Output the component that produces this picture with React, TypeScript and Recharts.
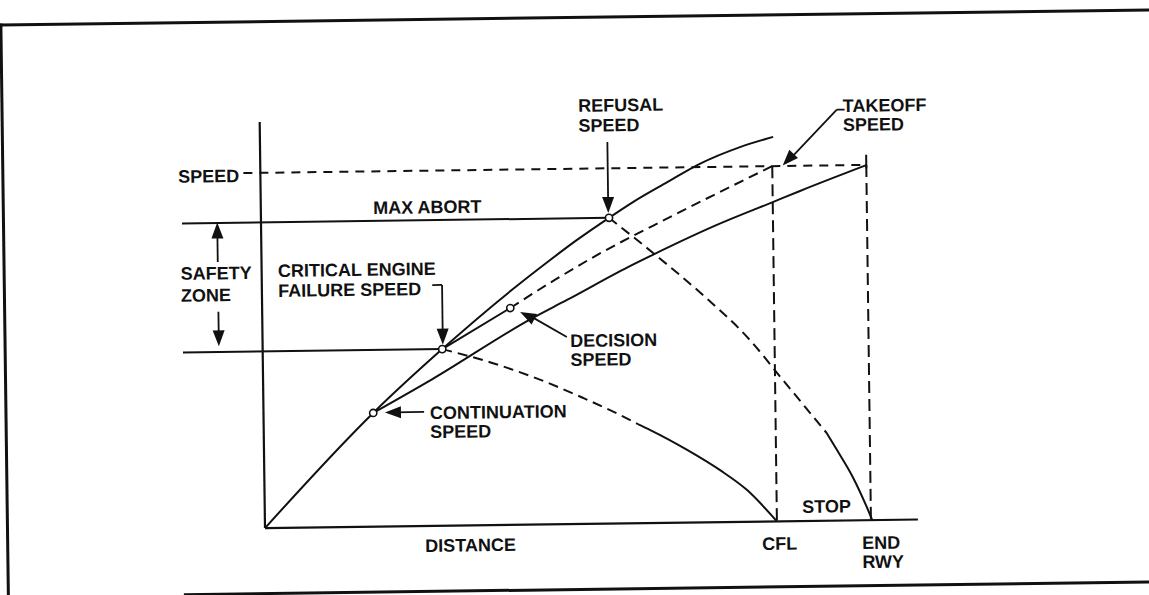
import { ComposedChart, Line, Scatter, XAxis, YAxis, ReferenceLine, ReferenceDot } from 'recharts';

// x = distance along runway (0-100), y = speed (0-100)
const allEngineAccel = [
  { x: 0, y: 0 }, { x: 16.8, y: 28.0 }, { x: 27.5, y: 43.5 }, { x: 38.4, y: 58.0 },
  { x: 44.2, y: 65.1 }, { x: 48.3, y: 69.9 }, { x: 53.3, y: 75.3 }, { x: 57.0, y: 79.1 },
  { x: 62.3, y: 83.9 }, { x: 67.3, y: 88.3 }, { x: 73.5, y: 92.3 }, { x: 78.6, y: 94.7 },
];
const goFromContinuation = [
  { x: 16.8, y: 28.0 }, { x: 26.0, y: 36.2 }, { x: 41.1, y: 50.6 }, { x: 46.7, y: 55.2 },
  { x: 56.1, y: 63.1 }, { x: 60.0, y: 66.1 }, { x: 69.8, y: 73.2 }, { x: 78.5, y: 78.7 },
  { x: 82.6, y: 81.3 }, { x: 92.9, y: 87.5 },
];
const goFromCritical = [{ x: 27.5, y: 43.5 }, { x: 38.0, y: 53.4 }];
const goFromDecision = [
  { x: 38.0, y: 53.4 }, { x: 45.0, y: 60.3 }, { x: 52.0, y: 66.7 }, { x: 60.0, y: 73.2 },
  { x: 68.0, y: 79.5 }, { x: 78.4, y: 87.5 },
];
const stopFromCriticalDash = [
  { x: 27.5, y: 43.5 }, { x: 35.0, y: 40.0 }, { x: 42.5, y: 35.6 }, { x: 49.0, y: 31.0 },
  { x: 54.6, y: 26.7 }, { x: 57.3, y: 24.4 },
];
const stopFromCriticalSolid = [
  { x: 57.3, y: 24.4 }, { x: 59.2, y: 22.9 }, { x: 64.8, y: 17.9 }, { x: 69.8, y: 12.8 },
  { x: 73.9, y: 7.8 }, { x: 78.4, y: 0 },
];
const stopFromRefusalDash = [
  { x: 53.3, y: 75.3 }, { x: 60.5, y: 65.8 }, { x: 67.1, y: 56.6 }, { x: 74.6, y: 44.8 },
  { x: 79.6, y: 34.8 }, { x: 86.2, y: 21.6 },
];
const stopFromRefusalSolid = [
  { x: 86.2, y: 21.6 }, { x: 87.7, y: 17.5 }, { x: 90.1, y: 10.7 }, { x: 92.2, y: 3.2 }, { x: 93.0, y: 0 },
];
const speedPoints = [
  { x: 16.8, y: 28.0 }, // continuation
  { x: 27.5, y: 43.5 }, // critical engine failure
  { x: 38.0, y: 53.4 }, // decision
  { x: 53.3, y: 75.3 }, // refusal
];

const TAKEOFF_SPEED = 87.5;
const MAX_ABORT = 75.3;
const CRITICAL_SPEED = 43.5;
const CFL = 78.4;
const END_RWY = 92.8;

const labels = [
  { x: -12.6, y: 85.3, lines: ['SPEED'], gap: 20 },
  { x: 17.2, y: 77.0, lines: ['MAX ABORT'], gap: 20 },
  { x: -12.4, y: 61.4, lines: ['SAFETY', 'ZONE'], gap: 22 },
  { x: 2.5, y: 61.8, lines: ['CRITICAL ENGINE', 'FAILURE SPEED'], gap: 20 },
  { x: 48.8, y: 101.5, lines: ['REFUSAL', 'SPEED'], gap: 20 },
  { x: 89.3, y: 100.6, lines: ['TAKEOFF', 'SPEED'], gap: 19 },
  { x: 47.1, y: 43.6, lines: ['DECISION', 'SPEED'], gap: 19 },
  { x: 25.5, y: 26.3, lines: ['CONTINUATION', 'SPEED'], gap: 19 },
  { x: 24.5, y: -6.4, lines: ['DISTANCE'], gap: 19 },
  { x: 76.1, y: -7.0, lines: ['CFL'], gap: 19 },
  { x: 91.4, y: -7.1, lines: ['END', 'RWY'], gap: 19 },
  { x: 82.3, y: 2.0, lines: ['STOP'], gap: 19 },
];

const leaders = [
  [{ x: 53.2, y: 94.0 }, { x: 53.2, y: 78.5 }],
  [{ x: 89.6, y: 101.2 }, { x: 88.4, y: 101.2 }],
  [{ x: 88.4, y: 101.2 }, { x: 81.0, y: 89.0 }],
  [{ x: 46.6, y: 46.1 }, { x: 40.8, y: 51.6 }],
  [{ x: 24.6, y: 28.1 }, { x: 20.0, y: 28.1 }],
  [{ x: 26.1, y: 59.3 }, { x: 27.6, y: 59.3 }],
  [{ x: 27.6, y: 59.3 }, { x: 27.6, y: 47.0 }],
  [{ x: -6.7, y: 65.7 }, { x: -6.7, y: 73.0 }],
  [{ x: -6.7, y: 53.4 }, { x: -6.7, y: 47.5 }],
];

const arrowHeads = [
  { x: 53.2, y: 76.5, angle: 90 },
  { x: 80.0, y: 87.6, angle: 134 },
  { x: 39.5, y: 52.4, angle: 208 },
  { x: 18.6, y: 28.1, angle: 180 },
  { x: 27.6, y: 44.6, angle: 90 },
  { x: -6.7, y: 75.4, angle: -90 },
  { x: -6.7, y: 44.9, angle: 90 },
];

const INK = '#111';
const FONT = '"Liberation Sans", Arial, Helvetica, sans-serif';

function arrowShape(angle: number) {
  return (p: any) => (
    <polygon points="0,0 -16,-6 -16,6" fill={INK} transform={`translate(${p.cx},${p.cy}) rotate(${angle})`} />
  );
}

const OpenDot = (props: any) => (
  <circle cx={props.cx} cy={props.cy} r={3.6} fill="#fff" stroke={INK} strokeWidth={1.6} />
);

function textShape(lines: string[], gap: number) {
  return (p: any) => (
    <text x={p.cx} y={p.cy} fontFamily={FONT} fontWeight="bold" fontSize={18} fill={INK}>
      {lines.map((l, i) => (
        <tspan key={i} x={p.cx} dy={i === 0 ? 0 : gap}>{l}</tspan>
      ))}
    </text>
  );
}

export default function App() {
  const solid = { stroke: INK, strokeWidth: 2, dot: false, isAnimationActive: false, type: 'monotone' as const };
  const dashed = { ...solid, strokeDasharray: '10 6' };
  return (
    <div style={{ position: 'relative', width: 1149, height: 595, background: '#fff', overflow: 'hidden' }}>
      <style>{'body{margin:0;overflow:hidden;background:#fff}'}</style>
      <div
        style={{
          position: 'absolute', left: 0, top: 0, width: 1149, height: 595,
          transform: 'rotate(-0.75deg)', transformOrigin: '574px 297px',
        }}
      >
        <div style={{ position: 'absolute', left: 3, top: 16, width: 1160, height: 600, borderLeft: `3px solid ${INK}`, borderTop: `3px solid ${INK}` }} />
        <div style={{ position: 'absolute', left: 180, top: 588, width: 990, borderTop: `3px solid ${INK}` }} />
        <div style={{ position: 'absolute', left: 0, top: 0 }}>
          <ComposedChart width={1149} height={595} margin={{ top: 118, right: 234, bottom: 71, left: 262 }}>
            <XAxis type="number" dataKey="x" domain={[0, 100]} allowDataOverflow hide />
            <YAxis type="number" dataKey="y" domain={[0, 100]} allowDataOverflow hide />

            <ReferenceLine segment={[{ x: 0, y: 0 }, { x: 0, y: 100 }]} stroke={INK} strokeWidth={2.2} ifOverflow="visible" />
            <ReferenceLine segment={[{ x: 0, y: 0 }, { x: 100, y: 0 }]} stroke={INK} strokeWidth={2.2} ifOverflow="visible" />

            <ReferenceLine segment={[{ x: -2.6, y: TAKEOFF_SPEED }, { x: END_RWY, y: TAKEOFF_SPEED }]} stroke={INK} strokeWidth={2} strokeDasharray="9 7" ifOverflow="visible" />
            <ReferenceLine segment={[{ x: -12.1, y: MAX_ABORT }, { x: 53.3, y: MAX_ABORT }]} stroke={INK} strokeWidth={2} ifOverflow="visible" />
            <ReferenceLine segment={[{ x: -12.2, y: CRITICAL_SPEED }, { x: 27.5, y: CRITICAL_SPEED }]} stroke={INK} strokeWidth={2} ifOverflow="visible" />
            <ReferenceLine segment={[{ x: CFL, y: TAKEOFF_SPEED }, { x: CFL, y: 0 }]} stroke={INK} strokeWidth={2} strokeDasharray="12 6" ifOverflow="visible" />
            <ReferenceLine segment={[{ x: END_RWY, y: TAKEOFF_SPEED }, { x: END_RWY, y: 0 }]} stroke={INK} strokeWidth={2} strokeDasharray="12 6" ifOverflow="visible" />
            <ReferenceLine segment={[{ x: END_RWY, y: 86.6 }, { x: END_RWY, y: 90.0 }]} stroke={INK} strokeWidth={2} ifOverflow="visible" />

            <Line data={allEngineAccel} dataKey="y" {...solid} />
            <Line data={goFromContinuation} dataKey="y" {...solid} />
            <Line data={goFromCritical} dataKey="y" {...solid} />
            <Line data={goFromDecision} dataKey="y" {...dashed} />
            <Line data={stopFromCriticalDash} dataKey="y" {...dashed} />
            <Line data={stopFromCriticalSolid} dataKey="y" {...solid} />
            <Line data={stopFromRefusalDash} dataKey="y" {...dashed} />
            <Line data={stopFromRefusalSolid} dataKey="y" {...solid} />

            {leaders.map((seg, i) => (
              <ReferenceLine key={`l${i}`} segment={seg} stroke={INK} strokeWidth={1.8} ifOverflow="visible" />
            ))}

            {arrowHeads.map((a, i) => (
              <ReferenceDot key={`a${i}`} x={a.x} y={a.y} r={1} ifOverflow="visible" shape={arrowShape(a.angle)} />
            ))}

            <Scatter data={speedPoints} dataKey="y" shape={OpenDot} isAnimationActive={false} />

            {labels.map((lb, i) => (
              <ReferenceDot key={`t${i}`} x={lb.x} y={lb.y} r={1} ifOverflow="visible" shape={textShape(lb.lines, lb.gap)} />
            ))}
          </ComposedChart>
        </div>
      </div>
    </div>
  );
}
